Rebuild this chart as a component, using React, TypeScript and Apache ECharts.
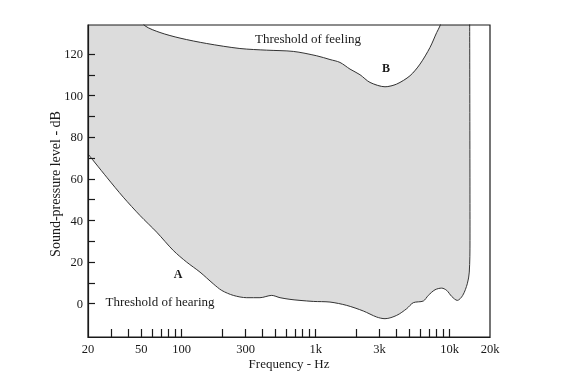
import React, { useEffect, useRef } from "react";
import * as echarts from "echarts";

// Threshold of feeling (upper boundary), frequency in Hz and level in dB
const feelingFreq = [48, 53.3, 68.9, 97.2, 153.8, 272, 431, 681, 1018, 1279, 1519, 1804, 2142, 2544, 3292, 4024, 5058, 6008, 7132, 8004, 8472, 8900];
const feelingDb = [138, 133.6, 130.4, 127.7, 125.1, 122.7, 121.9, 121.3, 119.2, 117.4, 116, 112.8, 110.1, 106.4, 104.3, 105.6, 109.6, 115.2, 123.2, 130.4, 133.6, 138];

// Threshold of hearing (lower boundary) including the high-frequency edge
const hearingFreq = [20, 27.6, 36.7, 48.9, 65.1, 86.6, 109, 137, 172, 199, 243, 306, 384, 470, 542, 643, 764, 960, 1279, 1705, 2268, 2854, 3292, 4024, 4778, 5354, 6357, 6929, 7773, 8724, 9506, 10360, 11404, 12514, 13540, 14012, 14182, 14100];
const hearingDb = [72, 60.8, 51.2, 42.4, 34.4, 25.6, 20, 15.2, 9.6, 6.4, 4.0, 2.9, 2.9, 4.0, 2.9, 2.1, 1.6, 1.1, 0.8, -0.8, -3.5, -6.4, -7.2, -5.6, -2.4, 0.5, 1.3, 4.0, 6.7, 7.5, 6.4, 3.5, 1.6, 4.0, 9.6, 15.2, 30.4, 138];

const xLabelValues = [20, 50, 100, 300, 1000, 3000, 10000, 20000];
const xTickValues = [30, 40, 50, 60, 70, 80, 90, 100, 200, 300, 400, 500, 600, 700, 800, 900, 1000, 2000, 3000, 4000, 5000, 6000, 7000, 8000, 9000, 10000];
const yLabelValues = [0, 20, 40, 60, 80, 100, 120];
const yTickValues = [0, 10, 20, 30, 40, 50, 60, 70, 80, 90, 100, 110, 120];

const FONT = "Liberation Serif";
const INK = "#1a1a1a";

export default function App() {
  const ref = useRef<HTMLDivElement>(null);
  useEffect(() => {
    if (!ref.current) return;
    const chart = echarts.init(ref.current, null, { renderer: "svg" });
    const feeling = feelingFreq.map((f, i) => [f, feelingDb[i]]);
    const hearing = hearingFreq.map((f, i) => [f, hearingDb[i]]);
    const fmt = (v: number) => (v >= 1000 ? v / 1000 + "k" : String(v));
    chart.setOption({
      animation: false,
      grid: { left: 88, right: 91, top: 25, bottom: 43, show: true, borderColor: INK, borderWidth: 1.2, backgroundColor: "transparent", z: 10 },
      xAxis: {
        type: "log",
        logBase: 10,
        min: 20,
        max: 20000,
        z: 5,
        axisLine: { show: true, onZero: false, lineStyle: { color: INK, width: 1.2 } },
        axisTick: { show: true, inside: true, length: 8, customValues: xTickValues, lineStyle: { color: INK, width: 1.2 } },
        axisLabel: { customValues: xLabelValues, formatter: fmt, fontFamily: FONT, fontSize: 12.5, color: INK, margin: 5 },
        splitLine: { show: false },
        minorTick: { show: false },
      },
      yAxis: {
        type: "value",
        min: -16,
        max: 134,
        z: 5,
        axisLine: { show: true, onZero: false, lineStyle: { color: INK, width: 1.2 } },
        axisTick: { show: true, inside: true, length: 7, customValues: yTickValues, lineStyle: { color: INK, width: 1.2 } },
        axisLabel: { customValues: yLabelValues, fontFamily: FONT, fontSize: 12.5, color: INK, margin: 5 },
        splitLine: { show: false },
      },
      series: [
        {
          type: "custom",
          clip: true,
          z: 1,
          silent: true,
          data: [[1000, 50]],
          renderItem: (_params: any, api: any) => {
            const pts: number[][] = [];
            pts.push(api.coord([20, 138]));
            feeling.forEach((p) => pts.push(api.coord(p)));
            for (let i = hearing.length - 1; i >= 0; i--) pts.push(api.coord(hearing[i]));
            return { type: "polygon", shape: { points: pts }, style: { fill: "#dcdcdc", stroke: "none" } };
          },
        },
        {
          type: "line",
          data: feeling,
          smooth: 0.3,
          symbol: "none",
          z: 3,
          lineStyle: { color: "#333", width: 1 },
        },
        {
          type: "line",
          data: hearing,
          smooth: 0.3,
          symbol: "none",
          z: 3,
          lineStyle: { color: "#333", width: 1 },
        },
      ],
      graphic: [
        { type: "text", x: 308, y: 38, style: { text: "Threshold of feeling", font: `13px "${FONT}"`, fill: INK, align: "center", verticalAlign: "middle" } },
        { type: "text", x: 386, y: 68, style: { text: "B", font: `bold 12px "${FONT}"`, fill: INK, align: "center", verticalAlign: "middle" } },
        { type: "text", x: 287, y: 159, style: { text: "Auditory area", font: `13px "${FONT}"`, fill: INK, align: "center", verticalAlign: "middle" } },
        { type: "text", x: 178, y: 274, style: { text: "A", font: `bold 12px "${FONT}"`, fill: INK, align: "center", verticalAlign: "middle" } },
        { type: "text", x: 160, y: 301, style: { text: "Threshold of hearing", font: `13px "${FONT}"`, fill: INK, align: "center", verticalAlign: "middle" } },
        { type: "text", x: 289, y: 363, style: { text: "Frequency - Hz", font: `13px "${FONT}"`, fill: INK, align: "center", verticalAlign: "middle" } },
        { type: "text", x: 55, y: 184, rotation: Math.PI / 2, style: { text: "Sound-pressure level - dB", font: `14px "${FONT}"`, fill: INK, align: "center", verticalAlign: "middle" } },
      ],
    });
    return () => chart.dispose();
  }, []);
  return <div ref={ref} style={{ position: "fixed", left: 0, top: 0, width: 581, height: 380 }} />;
}
